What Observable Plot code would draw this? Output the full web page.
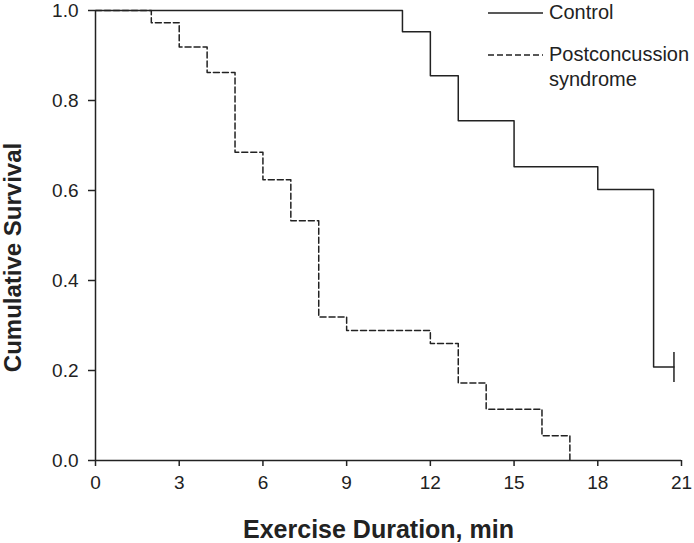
<!DOCTYPE html>
<html>
<head>
<meta charset="utf-8">
<script src="https://cdn.jsdelivr.net/npm/d3@7"></script>
<script src="https://cdn.jsdelivr.net/npm/@observablehq/plot@0.6"></script>
<style>
  html, body { margin: 0; padding: 0; background: #fff; }
  #wrap { position: relative; width: 694px; height: 543px; font-family: "Liberation Sans", Arial, sans-serif; color: #222; }
  #legend { position: absolute; left: 488px; top: 0px; font-size: 20px; line-height: 25px; }
  .row { display: flex; align-items: flex-start; }
  .row svg { flex: none; margin-top: 0px; }
  .lab { margin-left: 5px; }
</style>
</head>
<body>
<div id="wrap"></div>
<script>
// Control group: event times and survival after each step
const controlTime = [0, 11, 12, 13, 15, 18, 20, 20.73];
const controlSurv = [1.0, 0.953, 0.855, 0.755, 0.653, 0.602, 0.208, 0.208];
// Censored observation (Control)
const censorTime = [20.73];
const censorSurv = [0.208];
// Postconcussion syndrome group
const pcsTime = [0, 2, 3, 4, 5, 6, 7, 8, 9, 12, 13, 14, 16, 17];
const pcsSurv = [1.0, 0.973, 0.919, 0.862, 0.685, 0.624, 0.533, 0.319, 0.289, 0.260, 0.172, 0.114, 0.055, 0.0];
// Axis ticks
const xTicks = [0, 3, 6, 9, 12, 15, 18, 21];
const yTicks = [0, 0.2, 0.4, 0.6, 0.8, 1.0];
const seriesNames = ["Control", "Postconcussion syndrome"];

const control = controlTime.map((t, i) => ({t, s: controlSurv[i]}));
const pcs = pcsTime.map((t, i) => ({t, s: pcsSurv[i]}));
const censor = censorTime.map((t, i) => ({t, s: censorSurv[i]}));

const ink = "#222";
const tickMark = {
  draw(ctx, size) { ctx.moveTo(0, -15); ctx.lineTo(0, 15); }
};

const chart = Plot.plot({
  width: 694,
  height: 543,
  marginLeft: 95,
  marginRight: 13,
  marginTop: 10,
  marginBottom: 83,
  style: { fontFamily: "Liberation Sans, Arial, sans-serif", fontSize: "19px", color: ink, background: "#fff", overflow: "visible" },
  x: { domain: [0, 21], ticks: xTicks, label: null },
  y: { domain: [0, 1], ticks: yTicks, label: null, tickFormat: d3.format(".1f") },
  marks: [
    Plot.axisX({ ticks: xTicks, tickSize: 6, tickPadding: 9, label: null, stroke: ink, strokeWidth: 1.5, fill: ink, fontSize: 19 }),
    Plot.axisY({ ticks: yTicks, tickSize: 7, tickPadding: 10, label: null, tickFormat: d3.format(".1f"), stroke: ink, strokeWidth: 1.5, fill: ink, fontSize: 19 }),
    Plot.ruleX([0], { stroke: ink, strokeWidth: 1.5 }),
    Plot.ruleY([0], { stroke: ink, strokeWidth: 1.5 }),
    Plot.line(pcs, { x: "t", y: "s", curve: "step-after", stroke: ink, strokeWidth: 1.5, strokeDasharray: "6,3" }),
    Plot.line(control, { x: "t", y: "s", curve: "step-after", stroke: ink, strokeWidth: 1.5 }),
    Plot.dot(censor, { x: "t", y: "s", symbol: tickMark, stroke: ink, strokeWidth: 1.5, fill: "none" }),
    Plot.text(["Cumulative Survival"], { frameAnchor: "left", dx: -82, dy: 22, rotate: -90, fontSize: 24, fontWeight: "bold", fill: ink, textAnchor: "middle" }),
    Plot.text(["Exercise Duration, min"], { frameAnchor: "bottom", dy: 77, dx: -10, fontSize: 25, fontWeight: "bold", fill: ink, textAnchor: "middle" })
  ]
});

const wrap = document.getElementById("wrap");
wrap.appendChild(chart);

const legend = document.createElement("div");
legend.id = "legend";
legend.innerHTML = `
  <div class="row" style="height:42px"><svg width="56" height="25"><line x1="0" x2="55" y1="13" y2="13" stroke="${ink}" stroke-width="1.5"/></svg><span class="lab">${seriesNames[0]}</span></div>
  <div class="row"><svg width="56" height="25"><line x1="0" x2="55" y1="13" y2="13" stroke="${ink}" stroke-width="1.5" stroke-dasharray="6,3"/></svg><span class="lab">Postconcussion<br>syndrome</span></div>
`;
wrap.appendChild(legend);
</script>
</body>
</html>
